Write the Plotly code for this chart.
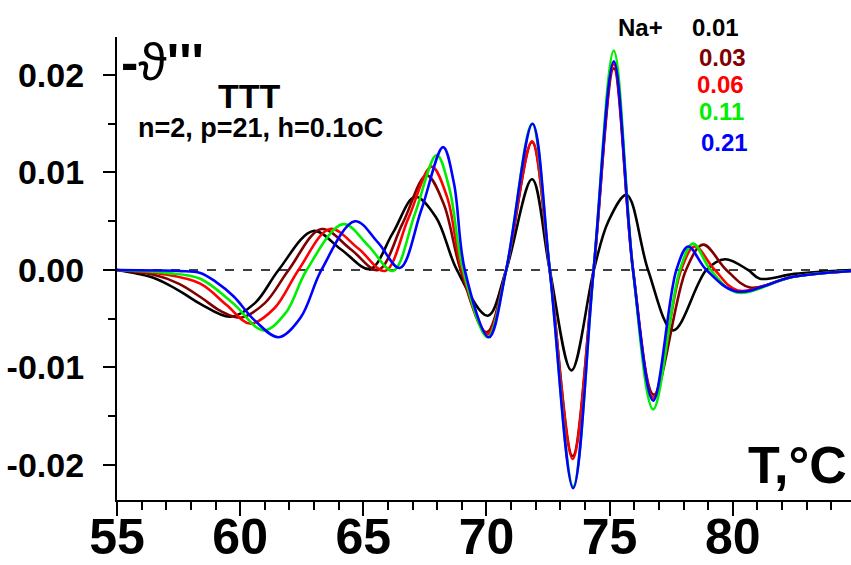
import plotly.graph_objects as go

# ---- data (T in °C, -θ''' values) ----
x_001 = [55, 56.35, 57.0, 57.7, 58.4, 59.6, 60.6, 61.56, 62.97, 64.1, 65.27, 66.2, 67.1, 67.95, 68.8,
         70.05, 70.8, 71.85, 72.57, 73.45, 74.36, 74.95, 75.69, 76.56, 77.58, 78.93, 79.68, 80.62, 81.1, 82.5, 84.8]
y_001 = [0, -0.0007, -0.0014, -0.0024, -0.0035, -0.0048, -0.0034, 0, 0.0040, 0.0021, 0.0001, 0.0038, 0.0075, 0.0054, 0,
         -0.0047, 0, 0.0093, 0, -0.0103, 0, 0.0050, 0.0077, 0, -0.0062, 0, 0.0011, 0, -0.0009, -0.0004, 0]

x_003 = [55, 56.5, 57.5, 58.4, 59.2, 60.0, 61.0, 61.97, 63.3, 64.5, 65.6, 66.6, 67.57, 68.26, 68.95,
         70.0, 70.8, 71.85, 72.57, 73.5, 74.35, 75.17, 75.95, 76.8, 78.1, 78.8, 79.74, 80.7, 82.45, 84.8]
y_003 = [0, -0.0005, -0.0014, -0.0028, -0.0042, -0.0049, -0.0034, 0, 0.0042, 0.0021, 0.0, 0.0048, 0.0097, 0.0068, 0,
         -0.0064, 0, 0.0131, 0, -0.0191, 0, 0.0207, 0, -0.0128, 0, 0.0026, 0, -0.0018, -0.0007, -0.0001]

x_006 = [55, 56.8, 58.38, 59.45, 60.4, 61.4, 62.37, 63.65, 64.8, 65.88, 66.83, 67.77, 68.4, 69.0,
         70.05, 70.8, 71.85, 72.57, 73.5, 74.35, 75.17, 75.95, 76.77, 77.9, 78.46, 79.27, 80.2, 82.45, 84.8]
y_006 = [0, -0.0004, -0.0014, -0.0036, -0.0055, -0.0039, 0, 0.0042, 0.0022, -0.0001, 0.0053, 0.0106, 0.0075, 0,
         -0.0066, 0, 0.0132, 0, -0.0194, 0, 0.0211, 0, -0.0131, 0, 0.0024, 0, -0.0021, -0.0007, -0.0001]

x_011 = [55, 57.0, 58.38, 59.7, 60.95, 61.85, 62.7, 64.18, 65.2, 66.2, 67.1, 67.98, 68.5, 69.05,
         70.05, 70.8, 71.85, 72.57, 73.52, 74.35, 75.17, 75.95, 76.77, 77.85, 78.39, 79.1, 80.15, 82.45, 84.8]
y_011 = [0, -0.0003, -0.0009, -0.0034, -0.0062, -0.0044, 0, 0.0047, 0.0025, -0.0001, 0.0058, 0.0118, 0.0083, 0,
         -0.0069, 0, 0.0150, 0, -0.0222, 0, 0.0225, 0, -0.0143, 0, 0.0027, 0, -0.0023, -0.0007, -0.0001]

x_021 = [55, 57.5, 58.38, 59.0, 59.73, 60.6, 61.56, 62.45, 63.3, 64.66, 65.6, 66.48, 67.36, 68.24, 68.68, 69.12,
         70.1, 70.8, 71.87, 72.57, 73.52, 74.35, 75.17, 75.95, 76.77, 77.71, 78.19, 78.93, 80.15, 82.45, 84.8]
y_021 = [0, -0.0001, -0.0003, -0.0012, -0.0027, -0.0052, -0.0069, -0.0049, 0, 0.0050, 0.0028, 0.0002, 0.0062, 0.0126, 0.0089, 0,
         -0.0069, 0, 0.0150, 0, -0.0224, 0, 0.0214, 0, -0.0134, 0, 0.0024, 0, -0.0022, -0.0007, -0.0001]

series_names = ["0.01", "0.03", "0.06", "0.11", "0.21"]
series_x = [x_001, x_003, x_006, x_011, x_021]
series_y = [y_001, y_003, y_006, y_011, y_021]
colors = ["#000000", "#800000", "#ff0000", "#00ee00", "#0000ff"]

x_tickvals = [55, 60, 65, 70, 75, 80]
y_tickvals = [0.02, 0.01, 0.0, -0.01, -0.02]
y_ticktext = ["0.02", "0.01", "0.00", "-0.01", "-0.02"]

FONT = "Liberation Sans, Arial, sans-serif"

fig = go.Figure()

# dashed zero line
fig.add_shape(type="line", xref="paper", x0=0, x1=1, yref="y", y0=0, y1=0,
              line=dict(color="black", width=1.6, dash="dash"), layer="below")

for name, xs, ys, c in zip(series_names, series_x, series_y, colors):
    fig.add_trace(go.Scatter(x=xs, y=ys, mode="lines", name=name,
                             line=dict(color=c, width=2.6, shape="spline", smoothing=1.0)))

fig.update_layout(
    width=851, height=565,
    margin=dict(l=117, r=0, t=37, b=65),
    plot_bgcolor="white", paper_bgcolor="white",
    showlegend=False,
    font=dict(family=FONT, color="black"),
)

fig.update_xaxes(
    range=[55, 84.8], showline=True, linecolor="black", linewidth=2.2,
    showgrid=False, zeroline=False, automargin=False,
    tickmode="array", tickvals=x_tickvals, ticktext=[str(v) for v in x_tickvals],
    ticks="outside", ticklen=14, tickwidth=2, tickcolor="black",
    ticklabelstandoff=-22,
    tickfont=dict(size=50, family=FONT, weight="bold"),
    minor=dict(ticks="outside", ticklen=8, tickwidth=2, tickcolor="black", dtick=1, tick0=55, showgrid=False),
)
fig.update_yaxes(
    range=[-0.0236, 0.0239], showline=True, linecolor="black", linewidth=2.2,
    showgrid=False, zeroline=False, automargin=False,
    tickmode="array", tickvals=y_tickvals, ticktext=y_ticktext,
    ticks="outside", ticklen=12, tickwidth=2, tickcolor="black",
    ticklabelstandoff=12,
    tickfont=dict(size=34, family=FONT, weight="bold"),
    minor=dict(ticks="outside", ticklen=7, tickwidth=2, tickcolor="black", dtick=0.005, tick0=0, showgrid=False),
)

def px2paper(px, py):
    return (px - 117) / 734.0, (500 - py) / 463.0

def add_text(text, px, py, size, color="black", xanchor="left", bold=True):
    xp, yp = px2paper(px, py)
    fig.add_annotation(text=text, x=xp, y=yp, xref="paper", yref="paper",
                       xanchor=xanchor, yanchor="middle", showarrow=False,
                       font=dict(size=size, color=color, family=FONT, weight="bold" if bold else "normal"))

add_text("<b>-</b>ϑ<b>'''</b>", 119, 62, 52, bold=False)
add_text("TTT", 216, 96, 34)
add_text("n=2, p=21, h=0.1oC", 136, 128, 27)

add_text("Na+", 616, 27, 24)
legend_y = [27, 57, 84, 112, 142]
legend_x = [690, 697, 695, 697, 699]
for name, c, lx, ly in zip(series_names, colors, legend_x, legend_y):
    add_text(name, lx, ly, 24, color=c)

add_text("T,°C", 849, 465, 52, xanchor="right")

fig.write_html("out.html")
